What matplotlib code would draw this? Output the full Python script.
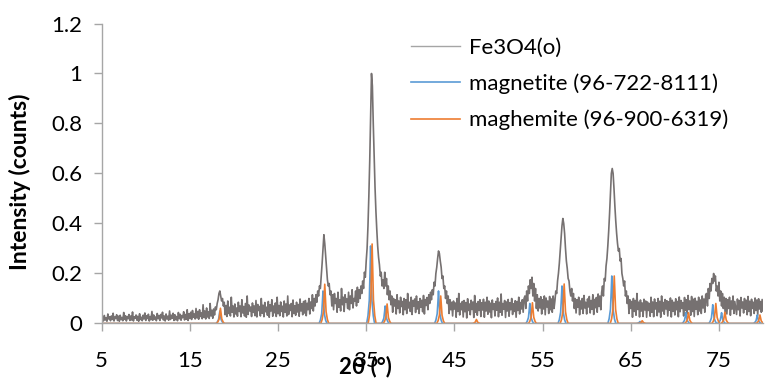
import numpy as np
import matplotlib
matplotlib.use('Agg')
import matplotlib.pyplot as plt
from matplotlib.ticker import FuncFormatter

plt.rcParams['font.family'] = ['Lato', 'DejaVu Sans']

# measured pattern, intensity x1000, 0.1 deg steps; each row spans one degree
fe3o4_counts = [
    8, 25, 10, 32, 14, 22, 9, 38, 18, 27,            # 5
    11, 30, 16, 41, 10, 26, 20, 35, 12, 29,          # 6
    9, 33, 15, 24, 11, 44, 17, 31, 10, 28,           # 7
    19, 36, 12, 30, 14, 46, 10, 27, 21, 34,          # 8
    13, 29, 9, 39, 16, 25, 11, 33, 18, 42,           # 9
    12, 31, 20, 37, 10, 28, 15, 48, 13, 34,          # 10
    17, 26, 11, 40, 19, 32, 12, 36, 22, 45,          # 11
    14, 30, 10, 38, 18, 29, 13, 50, 16, 33,          # 12
    21, 41, 12, 35, 15, 28, 11, 44, 19, 37,          # 13
    13, 32, 23, 47, 14, 36, 17, 55, 12, 39,          # 14
    20, 45, 16, 52, 25, 38, 18, 60, 22, 48,          # 15
    17, 55, 28, 42, 19, 75, 24, 50, 18, 62,          # 16
    26, 47, 20, 80, 30, 53, 21, 58, 34, 66,          # 17
    55, 80, 95, 120, 130, 110, 90, 100, 70, 85,      # 18
    35, 72, 28, 90, 40, 65, 30, 105, 45, 70,         # 19
    26, 78, 38, 62, 29, 85, 48, 70, 27, 95,          # 20
    42, 68, 30, 80, 25, 110, 36, 74, 50, 66,         # 21
    28, 82, 44, 70, 31, 92, 26, 76, 52, 68,          # 22
    30, 100, 41, 73, 27, 84, 47, 65, 33, 88,         # 23
    25, 75, 50, 95, 29, 70, 43, 82, 28, 105,         # 24
    39, 72, 31, 86, 48, 69, 26, 90, 45, 78,          # 25
    30, 110, 36, 74, 52, 80, 27, 94, 40, 71,         # 26
    33, 85, 46, 76, 29, 98, 50, 79, 35, 88,          # 27
    42, 92, 31, 81, 55, 100, 38, 86, 60, 115,        # 28
    50, 100, 70, 115, 85, 130, 110, 150, 140, 190,   # 29
    240, 300, 355, 320, 270, 220, 175, 150, 160, 115,  # 30
    130, 70, 115, 55, 120, 80, 100, 45, 125, 65,     # 31
    95, 50, 140, 75, 105, 48, 115, 85, 98, 60,       # 32
    125, 55, 110, 80, 135, 62, 100, 90, 130, 70,     # 33
    145, 85, 135, 100, 150, 120, 170, 140, 205, 185,   # 34
    250, 300, 390, 510, 650, 830, 1000, 950, 800, 670,  # 35
    545, 450, 375, 310, 265, 235, 190, 205, 150, 175,  # 36
    140, 205, 150, 180, 115, 150, 95, 130, 75, 110,  # 37
    45, 100, 70, 95, 38, 115, 60, 90, 42, 105,       # 38
    68, 88, 35, 100, 55, 95, 40, 120, 62, 85,        # 39
    48, 105, 36, 92, 70, 98, 44, 110, 58, 87,        # 40
    40, 100, 65, 93, 47, 112, 38, 96, 72, 104,       # 41
    55, 115, 80, 125, 95, 135, 115, 165, 150, 200,   # 42
    225, 260, 290, 280, 250, 225, 180, 190, 140, 150,  # 43
    100, 130, 80, 110, 40, 95, 55, 85, 30, 90,       # 44
    58, 82, 25, 100, 48, 120, 34, 80, 55, 88,        # 45
    26, 92, 47, 84, 22, 99, 52, 78, 35, 93,          # 46
    56, 86, 24, 112, 45, 80, 33, 88, 52, 95,         # 47
    28, 83, 54, 97, 25, 85, 50, 105, 37, 90,         # 48
    46, 81, 23, 94, 56, 79, 30, 88, 53, 102,         # 49
    27, 85, 45, 118, 33, 80, 57, 92, 24, 86,         # 50
    50, 96, 29, 83, 55, 100, 36, 79, 48, 91,         # 51
    25, 88, 52, 105, 38, 84, 58, 95, 45, 100,        # 52
    110, 60, 130, 90, 150, 120, 175, 140, 185, 110,  # 53
    160, 90, 140, 60, 115, 50, 100, 62, 107, 38,     # 54
    95, 58, 110, 35, 102, 66, 90, 40, 108, 55,       # 55
    98, 45, 110, 60, 90, 130, 120, 170, 200, 240,    # 56
    290, 340, 390, 420, 400, 360, 300, 250, 220, 180,  # 57
    170, 130, 110, 140, 90, 120, 60, 100, 42, 95,    # 58
    65, 105, 35, 90, 58, 100, 40, 112, 62, 85,       # 59
    38, 98, 66, 108, 42, 92, 57, 115, 36, 96,        # 60
    63, 104, 45, 118, 68, 110, 55, 125, 150, 110,    # 61
    180, 170, 230, 260, 310, 370, 440, 520, 600, 620,  # 62
    600, 540, 470, 410, 360, 320, 290, 300, 250, 260,  # 63
    200, 180, 150, 170, 110, 130, 80, 110, 40, 95,   # 64
    60, 88, 25, 100, 48, 92, 33, 120, 56, 85,        # 65
    26, 94, 50, 82, 28, 97, 54, 90, 25, 86,          # 66
    52, 80, 29, 105, 45, 86, 27, 98, 58, 83,         # 67
    31, 100, 46, 89, 25, 110, 50, 84, 37, 96,        # 68
    58, 91, 30, 87, 53, 102, 26, 93, 49, 85,         # 69
    34, 99, 55, 88, 27, 106, 47, 92, 60, 84,         # 70
    30, 104, 52, 95, 38, 112, 56, 90, 33, 108,       # 71
    48, 97, 28, 101, 57, 89, 35, 105, 50, 94,        # 72
    40, 110, 62, 98, 45, 115, 120, 70, 140, 100,     # 73
    160, 130, 180, 160, 200, 170, 190, 130, 150, 110,  # 74
    165, 90, 130, 70, 120, 60, 105, 45, 100, 38,     # 75
    95, 60, 105, 33, 90, 58, 110, 40, 88, 62,        # 76
    36, 98, 55, 92, 30, 104, 62, 86, 42, 100,        # 77
    57, 93, 35, 108, 48, 89, 31, 97, 60, 85,         # 78
    40, 102, 52, 94, 33, 99, 58, 88, 45, 96,         # 79
    50,                                              # 80
]

# reference patterns: peak positions (2theta) and heights
magnetite_pos = [18.4, 30.1, 35.5, 37.15, 43.2, 53.55, 57.2, 62.85, 66.05, 71.25, 74.3, 75.3, 79.35]
magnetite_h = [0.05, 0.13, 0.31, 0.07, 0.13, 0.08, 0.15, 0.19, 0.008, 0.043, 0.075, 0.043, 0.034]
maghemite_pos = [18.47, 30.3, 35.67, 37.37, 43.45, 47.5, 53.85, 57.45, 63.13, 66.3, 71.55, 74.65, 75.68, 79.65]
maghemite_h = [0.061, 0.157, 0.318, 0.078, 0.11, 0.016, 0.083, 0.158, 0.19, 0.011, 0.043, 0.08, 0.045, 0.034]

# peak profile of the reference lines (offset in deg, fraction of height)
profile_off = [-0.45, -0.3, -0.15, -0.07, 0.0, 0.07, 0.15, 0.3, 0.45]
profile_frac = [0.0, 0.1, 0.3, 0.65, 1.0, 0.65, 0.3, 0.1, 0.0]

x_ticks = [5, 15, 25, 35, 45, 55, 65, 75]
y_ticks = [0, 0.2, 0.4, 0.6, 0.8, 1.0, 1.2]


def stick_pattern(pos, heights):
    xs, ys = [5.0], [0.0]
    for p, h in zip(pos, heights):
        for o, f in zip(profile_off, profile_frac):
            xs.append(p + o)
            ys.append(h * f)
    xs.append(80.0)
    ys.append(0.0)
    return xs, ys


fig = plt.figure(figsize=(7.65, 3.84), dpi=100)
ax = fig.add_axes([0.1329, 0.1576, 0.8645, 0.7812])

two_theta = 5 + 0.1 * np.arange(len(fe3o4_counts))
ax.plot(two_theta, np.array(fe3o4_counts) / 1000, color='#767171', lw=1.2, label='Fe3O4(o)')
mx, my = stick_pattern(magnetite_pos, magnetite_h)
ax.plot(mx, my, color='#5B9BD5', lw=1.2, label='magnetite (96-722-8111)')
hx, hy = stick_pattern(maghemite_pos, maghemite_h)
ax.plot(hx, hy, color='#ED7D31', lw=1.2, label='maghemite (96-900-6319)')

ax.set_xlim(5, 80)
ax.set_ylim(0, 1.2)
ax.set_xticks(x_ticks)
ax.set_yticks(y_ticks)
ax.yaxis.set_major_formatter(FuncFormatter(lambda v, p: f'{v:g}'))

for side in ['top', 'right']:
    ax.spines[side].set_visible(False)
for side in ['left', 'bottom']:
    ax.spines[side].set_color('#a6a6a6')
    ax.spines[side].set_linewidth(1.0)
ax.tick_params(axis='both', length=6, width=1.0, color='#a6a6a6', labelsize=16, labelcolor='black')
ax.tick_params(axis='y', pad=8)
ax.tick_params(axis='x', pad=14)

fig.text(365 / 765, 1 - 367 / 384, '2θ (°)', ha='center', va='center',
         fontsize=16, fontweight='bold')
fig.text(20 / 765, 1 - 182 / 384, 'Intensity (counts)', ha='center', va='center',
         rotation=90, fontsize=16.5, fontweight='bold')

leg = ax.legend(loc='upper left', bbox_to_anchor=(411 / 765, 1 - 38 / 384), bbox_transform=fig.transFigure,
                frameon=False, fontsize=16, handlelength=2.2, handletextpad=0.4,
                labelspacing=0.7, borderpad=0, borderaxespad=0)
leg.get_lines()[0].set_linewidth(1.0)
leg.get_lines()[0].set_color('#a5a5a5')

fig.savefig('out.png', dpi=100)
